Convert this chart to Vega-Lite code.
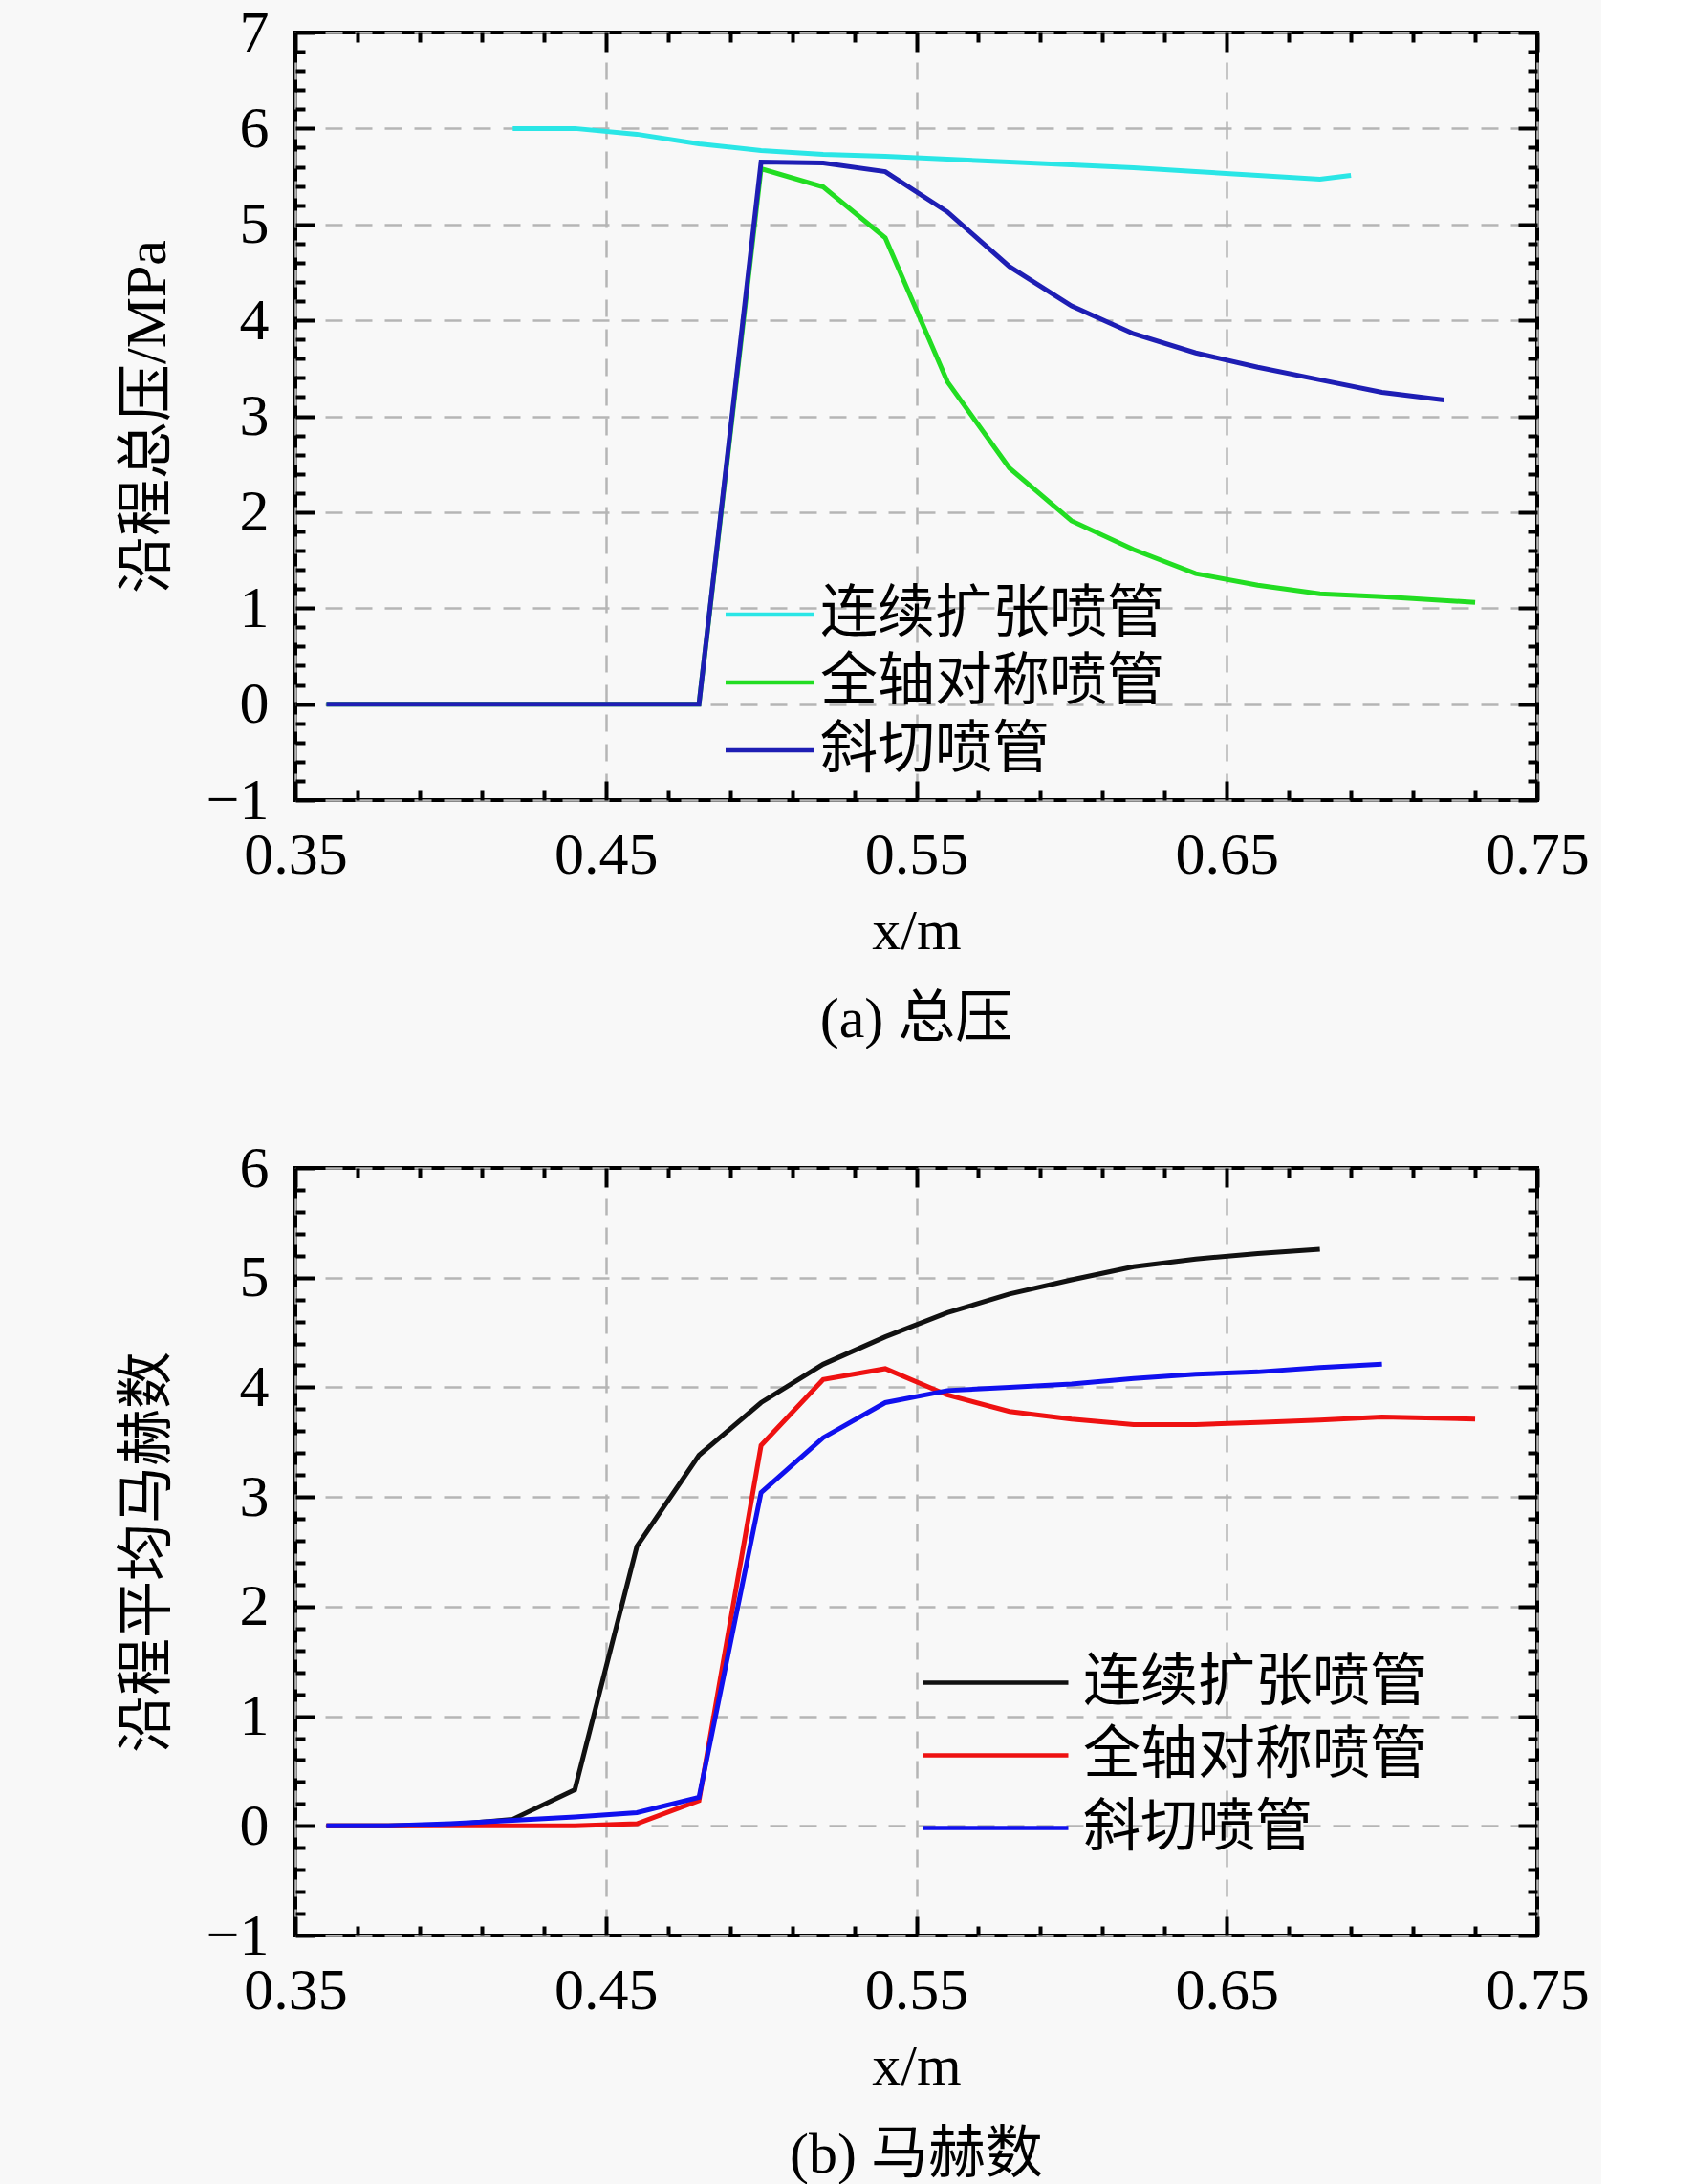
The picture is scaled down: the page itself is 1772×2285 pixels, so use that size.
{
  "$schema": "https://vega.github.io/schema/vega-lite/v6.json",
  "background": "#f8f8f8",
  "padding": {"left": 122, "top": 1, "right": 10, "bottom": 2},
  "spacing": 90,
  "resolve": {"scale": {"color": "independent"}, "legend": {"color": "independent"}},
  "config": {
    "font": "Liberation Serif, Noto Sans CJK SC",
    "view": {"stroke": "black", "strokeWidth": 4},
    "axis": {
      "domain": false,
      "tickColor": "black",
      "tickWidth": 4,
      "labelFont": "Liberation Serif",
      "labelFontSize": 62,
      "labelColor": "black",
      "labelFlush": false,
      "labelOverlap": false,
      "titleFont": "Liberation Serif, Noto Sans CJK SC",
      "titleFontSize": 60,
      "titleFontWeight": "normal",
      "titleColor": "black",
      "gridColor": "#b5b5b5",
      "gridWidth": 2.5,
      "gridDash": [18, 13]
    },
    "legend": {
      "labelFont": "Liberation Serif, Noto Sans CJK SC",
      "labelFontSize": 60,
      "labelColor": "black",
      "labelLimit": 0,
      "symbolType": "M-1,0H3",
      "symbolStrokeWidth": 4.5
    },
    "title": {"font": "Liberation Serif, Noto Sans CJK SC", "fontSize": 60, "fontWeight": "normal", "color": "black"}
  },
  "datasets": {
    "a": [
      {"x": 0.42, "y": 6.0, "s": "连续扩张喷管"},
      {"x": 0.44, "y": 6.0, "s": "连续扩张喷管"},
      {"x": 0.46, "y": 5.94, "s": "连续扩张喷管"},
      {"x": 0.48, "y": 5.84, "s": "连续扩张喷管"},
      {"x": 0.50, "y": 5.77, "s": "连续扩张喷管"},
      {"x": 0.52, "y": 5.73, "s": "连续扩张喷管"},
      {"x": 0.54, "y": 5.71, "s": "连续扩张喷管"},
      {"x": 0.56, "y": 5.68, "s": "连续扩张喷管"},
      {"x": 0.58, "y": 5.65, "s": "连续扩张喷管"},
      {"x": 0.60, "y": 5.62, "s": "连续扩张喷管"},
      {"x": 0.62, "y": 5.59, "s": "连续扩张喷管"},
      {"x": 0.64, "y": 5.55, "s": "连续扩张喷管"},
      {"x": 0.66, "y": 5.51, "s": "连续扩张喷管"},
      {"x": 0.68, "y": 5.47, "s": "连续扩张喷管"},
      {"x": 0.69, "y": 5.51, "s": "连续扩张喷管"},
      {"x": 0.36, "y": 0, "s": "全轴对称喷管"},
      {"x": 0.40, "y": 0, "s": "全轴对称喷管"},
      {"x": 0.44, "y": 0, "s": "全轴对称喷管"},
      {"x": 0.48, "y": 0, "s": "全轴对称喷管"},
      {"x": 0.50, "y": 5.58, "s": "全轴对称喷管"},
      {"x": 0.52, "y": 5.39, "s": "全轴对称喷管"},
      {"x": 0.54, "y": 4.86, "s": "全轴对称喷管"},
      {"x": 0.56, "y": 3.36, "s": "全轴对称喷管"},
      {"x": 0.58, "y": 2.46, "s": "全轴对称喷管"},
      {"x": 0.60, "y": 1.91, "s": "全轴对称喷管"},
      {"x": 0.62, "y": 1.61, "s": "全轴对称喷管"},
      {"x": 0.64, "y": 1.36, "s": "全轴对称喷管"},
      {"x": 0.66, "y": 1.24, "s": "全轴对称喷管"},
      {"x": 0.68, "y": 1.15, "s": "全轴对称喷管"},
      {"x": 0.70, "y": 1.12, "s": "全轴对称喷管"},
      {"x": 0.73, "y": 1.06, "s": "全轴对称喷管"},
      {"x": 0.36, "y": 0, "s": "斜切喷管"},
      {"x": 0.40, "y": 0, "s": "斜切喷管"},
      {"x": 0.44, "y": 0, "s": "斜切喷管"},
      {"x": 0.48, "y": 0, "s": "斜切喷管"},
      {"x": 0.50, "y": 5.65, "s": "斜切喷管"},
      {"x": 0.52, "y": 5.64, "s": "斜切喷管"},
      {"x": 0.54, "y": 5.55, "s": "斜切喷管"},
      {"x": 0.56, "y": 5.13, "s": "斜切喷管"},
      {"x": 0.58, "y": 4.56, "s": "斜切喷管"},
      {"x": 0.60, "y": 4.15, "s": "斜切喷管"},
      {"x": 0.62, "y": 3.86, "s": "斜切喷管"},
      {"x": 0.64, "y": 3.66, "s": "斜切喷管"},
      {"x": 0.66, "y": 3.51, "s": "斜切喷管"},
      {"x": 0.68, "y": 3.38, "s": "斜切喷管"},
      {"x": 0.70, "y": 3.25, "s": "斜切喷管"},
      {"x": 0.72, "y": 3.17, "s": "斜切喷管"}
    ],
    "b": [
      {"x": 0.36, "y": 0, "s": "连续扩张喷管"},
      {"x": 0.38, "y": 0, "s": "连续扩张喷管"},
      {"x": 0.40, "y": 0.01, "s": "连续扩张喷管"},
      {"x": 0.42, "y": 0.06, "s": "连续扩张喷管"},
      {"x": 0.44, "y": 0.33, "s": "连续扩张喷管"},
      {"x": 0.46, "y": 2.55, "s": "连续扩张喷管"},
      {"x": 0.48, "y": 3.38, "s": "连续扩张喷管"},
      {"x": 0.50, "y": 3.86, "s": "连续扩张喷管"},
      {"x": 0.52, "y": 4.21, "s": "连续扩张喷管"},
      {"x": 0.54, "y": 4.46, "s": "连续扩张喷管"},
      {"x": 0.56, "y": 4.68, "s": "连续扩张喷管"},
      {"x": 0.58, "y": 4.85, "s": "连续扩张喷管"},
      {"x": 0.60, "y": 4.98, "s": "连续扩张喷管"},
      {"x": 0.62, "y": 5.10, "s": "连续扩张喷管"},
      {"x": 0.64, "y": 5.17, "s": "连续扩张喷管"},
      {"x": 0.66, "y": 5.22, "s": "连续扩张喷管"},
      {"x": 0.68, "y": 5.26, "s": "连续扩张喷管"},
      {"x": 0.36, "y": 0, "s": "全轴对称喷管"},
      {"x": 0.38, "y": 0, "s": "全轴对称喷管"},
      {"x": 0.40, "y": 0, "s": "全轴对称喷管"},
      {"x": 0.42, "y": 0, "s": "全轴对称喷管"},
      {"x": 0.44, "y": 0, "s": "全轴对称喷管"},
      {"x": 0.46, "y": 0.02, "s": "全轴对称喷管"},
      {"x": 0.48, "y": 0.23, "s": "全轴对称喷管"},
      {"x": 0.50, "y": 3.47, "s": "全轴对称喷管"},
      {"x": 0.52, "y": 4.07, "s": "全轴对称喷管"},
      {"x": 0.54, "y": 4.17, "s": "全轴对称喷管"},
      {"x": 0.56, "y": 3.93, "s": "全轴对称喷管"},
      {"x": 0.58, "y": 3.78, "s": "全轴对称喷管"},
      {"x": 0.60, "y": 3.71, "s": "全轴对称喷管"},
      {"x": 0.62, "y": 3.66, "s": "全轴对称喷管"},
      {"x": 0.64, "y": 3.66, "s": "全轴对称喷管"},
      {"x": 0.66, "y": 3.68, "s": "全轴对称喷管"},
      {"x": 0.68, "y": 3.70, "s": "全轴对称喷管"},
      {"x": 0.70, "y": 3.73, "s": "全轴对称喷管"},
      {"x": 0.73, "y": 3.71, "s": "全轴对称喷管"},
      {"x": 0.36, "y": 0, "s": "斜切喷管"},
      {"x": 0.38, "y": 0, "s": "斜切喷管"},
      {"x": 0.40, "y": 0.02, "s": "斜切喷管"},
      {"x": 0.42, "y": 0.05, "s": "斜切喷管"},
      {"x": 0.44, "y": 0.08, "s": "斜切喷管"},
      {"x": 0.46, "y": 0.12, "s": "斜切喷管"},
      {"x": 0.48, "y": 0.26, "s": "斜切喷管"},
      {"x": 0.50, "y": 3.04, "s": "斜切喷管"},
      {"x": 0.52, "y": 3.54, "s": "斜切喷管"},
      {"x": 0.54, "y": 3.86, "s": "斜切喷管"},
      {"x": 0.56, "y": 3.97, "s": "斜切喷管"},
      {"x": 0.58, "y": 4.00, "s": "斜切喷管"},
      {"x": 0.60, "y": 4.03, "s": "斜切喷管"},
      {"x": 0.62, "y": 4.08, "s": "斜切喷管"},
      {"x": 0.64, "y": 4.12, "s": "斜切喷管"},
      {"x": 0.66, "y": 4.14, "s": "斜切喷管"},
      {"x": 0.68, "y": 4.18, "s": "斜切喷管"},
      {"x": 0.70, "y": 4.21, "s": "斜切喷管"}
    ]
  },
  "vconcat": [
    {
      "width": 1299,
      "height": 803,
      "data": {"name": "a"},
      "title": {"text": "(a) 总压", "orient": "bottom", "frame": "group", "anchor": "middle", "offset": 34},
      "resolve": {"axis": {"x": "independent", "y": "independent"}},
      "layer": [
        {
          "mark": {"type": "line", "strokeWidth": 5},
          "encoding": {
            "x": {"field": "x", "type": "quantitative", "scale": {"domain": [0.35, 0.75], "nice": false, "zero": false},
              "axis": {"orient": "bottom", "values": [0.35, 0.45, 0.55, 0.65, 0.75], "format": ".2f", "grid": true, "tickSize": -20, "labelPadding": 47, "title": "x/m", "titlePadding": 20}},
            "y": {"field": "y", "type": "quantitative", "scale": {"domain": [-1, 7], "nice": false, "zero": false},
              "axis": {"orient": "left", "values": [-1, 0, 1, 2, 3, 4, 5, 6, 7], "format": "d", "grid": true, "tickSize": -20, "labelPadding": 48, "title": "沿程总压/MPa", "titlePadding": 30}},
            "color": {"field": "s", "type": "nominal",
              "scale": {"domain": ["连续扩张喷管", "全轴对称喷管", "斜切喷管"], "range": ["#2ae6e6", "#22dd22", "#1e1eb4"]},
              "legend": {"orient": "none", "legendX": 443, "legendY": 579, "title": null, "symbolSize": 2116, "rowPadding": 11, "labelOffset": 46}}
          }
        },
        {
          "mark": {"type": "line", "opacity": 0},
          "encoding": {
            "x": {"field": "x", "type": "quantitative", "axis": {"orient": "bottom", "values": [0.37, 0.39, 0.41, 0.43, 0.47, 0.49, 0.51, 0.53, 0.57, 0.59, 0.61, 0.63, 0.67, 0.69, 0.71, 0.73], "labels": false, "grid": false, "tickSize": -10, "title": null}},
            "y": {"field": "y", "type": "quantitative", "axis": {"orient": "left", "values": [-0.8, -0.6, -0.4, -0.2, 0.2, 0.4, 0.6, 0.8, 1.2, 1.4, 1.6, 1.8, 2.2, 2.4, 2.6, 2.8, 3.2, 3.4, 3.6, 3.8, 4.2, 4.4, 4.6, 4.8, 5.2, 5.4, 5.6, 5.8, 6.2, 6.4, 6.6, 6.8], "labels": false, "grid": false, "tickSize": -10, "title": null}},
            "detail": {"field": "s"}
          }
        },
        {
          "mark": {"type": "line", "opacity": 0},
          "encoding": {
            "x": {"field": "x", "type": "quantitative", "axis": {"orient": "top", "values": [0.35, 0.45, 0.55, 0.65, 0.75], "labels": false, "grid": false, "tickSize": -20, "title": null}},
            "y": {"field": "y", "type": "quantitative", "axis": {"orient": "right", "values": [-1, 0, 1, 2, 3, 4, 5, 6, 7], "labels": false, "grid": false, "tickSize": -20, "title": null}},
            "detail": {"field": "s"}
          }
        },
        {
          "mark": {"type": "line", "opacity": 0},
          "encoding": {
            "x": {"field": "x", "type": "quantitative", "axis": {"orient": "top", "values": [0.37, 0.39, 0.41, 0.43, 0.47, 0.49, 0.51, 0.53, 0.57, 0.59, 0.61, 0.63, 0.67, 0.69, 0.71, 0.73], "labels": false, "grid": false, "tickSize": -10, "title": null}},
            "y": {"field": "y", "type": "quantitative", "axis": {"orient": "right", "values": [-0.8, -0.6, -0.4, -0.2, 0.2, 0.4, 0.6, 0.8, 1.2, 1.4, 1.6, 1.8, 2.2, 2.4, 2.6, 2.8, 3.2, 3.4, 3.6, 3.8, 4.2, 4.4, 4.6, 4.8, 5.2, 5.4, 5.6, 5.8, 6.2, 6.4, 6.6, 6.8], "labels": false, "grid": false, "tickSize": -10, "title": null}},
            "detail": {"field": "s"}
          }
        }
      ]
    },
    {
      "width": 1299,
      "height": 803,
      "data": {"name": "b"},
      "title": {"text": "(b) 马赫数", "orient": "bottom", "frame": "group", "anchor": "middle", "offset": 34},
      "resolve": {"axis": {"x": "independent", "y": "independent"}},
      "layer": [
        {
          "mark": {"type": "line", "strokeWidth": 5},
          "encoding": {
            "x": {"field": "x", "type": "quantitative", "scale": {"domain": [0.35, 0.75], "nice": false, "zero": false},
              "axis": {"orient": "bottom", "values": [0.35, 0.45, 0.55, 0.65, 0.75], "format": ".2f", "grid": true, "tickSize": -20, "labelPadding": 47, "title": "x/m", "titlePadding": 20}},
            "y": {"field": "y", "type": "quantitative", "scale": {"domain": [-1, 6], "nice": false, "zero": false},
              "axis": {"orient": "left", "values": [-1, 0, 1, 2, 3, 4, 5, 6], "format": "d", "grid": true, "tickSize": -20, "labelPadding": 48, "title": "沿程平均马赫数", "titlePadding": 30}},
            "color": {"field": "s", "type": "nominal",
              "scale": {"domain": ["连续扩张喷管", "全轴对称喷管", "斜切喷管"], "range": ["#111111", "#ee1111", "#1010ee"]},
              "legend": {"orient": "none", "legendX": 654, "legendY": 498, "title": null, "symbolSize": 5776, "rowPadding": 5, "labelOffset": 89}}
          }
        },
        {
          "mark": {"type": "line", "opacity": 0},
          "encoding": {
            "x": {"field": "x", "type": "quantitative", "axis": {"orient": "bottom", "values": [0.37, 0.39, 0.41, 0.43, 0.47, 0.49, 0.51, 0.53, 0.57, 0.59, 0.61, 0.63, 0.67, 0.69, 0.71, 0.73], "labels": false, "grid": false, "tickSize": -10, "title": null}},
            "y": {"field": "y", "type": "quantitative", "axis": {"orient": "left", "values": [-0.8, -0.6, -0.4, -0.2, 0.2, 0.4, 0.6, 0.8, 1.2, 1.4, 1.6, 1.8, 2.2, 2.4, 2.6, 2.8, 3.2, 3.4, 3.6, 3.8, 4.2, 4.4, 4.6, 4.8, 5.2, 5.4, 5.6, 5.8], "labels": false, "grid": false, "tickSize": -10, "title": null}},
            "detail": {"field": "s"}
          }
        },
        {
          "mark": {"type": "line", "opacity": 0},
          "encoding": {
            "x": {"field": "x", "type": "quantitative", "axis": {"orient": "top", "values": [0.35, 0.45, 0.55, 0.65, 0.75], "labels": false, "grid": false, "tickSize": -20, "title": null}},
            "y": {"field": "y", "type": "quantitative", "axis": {"orient": "right", "values": [-1, 0, 1, 2, 3, 4, 5, 6], "labels": false, "grid": false, "tickSize": -20, "title": null}},
            "detail": {"field": "s"}
          }
        },
        {
          "mark": {"type": "line", "opacity": 0},
          "encoding": {
            "x": {"field": "x", "type": "quantitative", "axis": {"orient": "top", "values": [0.37, 0.39, 0.41, 0.43, 0.47, 0.49, 0.51, 0.53, 0.57, 0.59, 0.61, 0.63, 0.67, 0.69, 0.71, 0.73], "labels": false, "grid": false, "tickSize": -10, "title": null}},
            "y": {"field": "y", "type": "quantitative", "axis": {"orient": "right", "values": [-0.8, -0.6, -0.4, -0.2, 0.2, 0.4, 0.6, 0.8, 1.2, 1.4, 1.6, 1.8, 2.2, 2.4, 2.6, 2.8, 3.2, 3.4, 3.6, 3.8, 4.2, 4.4, 4.6, 4.8, 5.2, 5.4, 5.6, 5.8], "labels": false, "grid": false, "tickSize": -10, "title": null}},
            "detail": {"field": "s"}
          }
        }
      ]
    }
  ]
}
